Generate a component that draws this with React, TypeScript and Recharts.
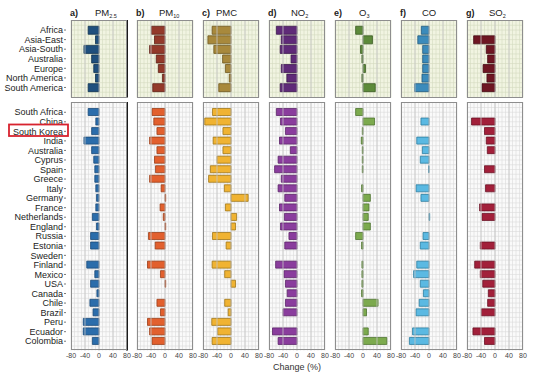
import { Bar, BarChart, CartesianGrid, ReferenceLine, XAxis, YAxis } from 'recharts';

const regions = ['Africa', 'Asia-East', 'Asia-South', 'Australia', 'Europe', 'North America', 'South America'];
const countries = [
  'South Africa', 'China', 'South Korea', 'India', 'Australia', 'Cyprus', 'Spain', 'Greece', 'Italy',
  'Germany', 'France', 'Netherlands', 'England', 'Russia', 'Estonia', 'Sweden', 'Finland', 'Mexico',
  'USA', 'Canada', 'Chile', 'Brazil', 'Peru', 'Ecuador', 'Colombia',
];

// % change, regions (top panels)
const pm25Regions = [-31, -10, -43, -21, -15, -10, -31];
const pm10Regions = [-39, -30, -44, -25, -19, -7, -35];
const pmcRegions = [-54, -66, -49, -24, -16, -5, -35];
const no2Regions = [-59, -45, -48, -17, -45, -29, -48];
const o3Regions = [-21, 27, -7, -3, 7, -3, 35];
const coRegions = [-22, -32, -18, -18, -18, -20, -41];
const so2Regions = [null, -61, -25, -21, -34, -23, -37];

// % change, countries (bottom panels)
const pm25Countries = [-31, -9, -21, -43, -21, -15, -12, -12, -9, -7, -9, -19, -7, -24, -24, null, -35, -12, -24, -6, -26, -17, -45, -45, -19];
const pm10Countries = [-37, -32, -23, -44, -23, -30, -27, -44, -11, 2, -14, -5, 2, -47, -28, null, -50, -13, 2, null, -23, -13, -50, -44, -37];
const pmcCountries = [-53, -75, -23, -51, -23, -40, -59, -64, -19, 49, -16, 16, 13, -53, -14, null, -54, -18, 13, null, -18, -8, -55, -38, -54];
const no2Countries = [-59, -47, -33, -50, -19, -54, -64, -45, -54, -35, -50, -36, -47, -23, -35, null, -61, -37, -33, -28, -33, -40, null, -70, -54];
const o3Countries = [-21, 33, -2, -5, -2, -2, -2, null, -4, 21, 17, 15, 21, -21, -4, null, -3, -3, -3, -4, 43, 10, null, 15, 68];
const coCountries = [null, -23, null, -35, -19, -25, -1, null, -37, -23, null, 2, null, -17, -25, null, -35, -44, -25, -16, -28, -37, null, -47, -56];
const so2Countries = [null, -67, -30, -25, -22, null, -30, null, -27, null, -44, -37, null, null, -42, null, -58, -42, -35, -19, -21, -39, null, -63, -30];

const xTicks = [-80, -70, -60, -50, -40, -30, -20, -10, 0, 10, 20, 30, 40, 50, 60, 70, 80];
const xLabels = [-80, -40, 0, 40, 80];

const pollutants = [
  { letter: 'a)', name: 'PM', sub: '2.5', top: pm25Regions, bottom: pm25Countries },
  { letter: 'b)', name: 'PM', sub: '10', top: pm10Regions, bottom: pm10Countries },
  { letter: 'c)', name: 'PMC', sub: '', top: pmcRegions, bottom: pmcCountries },
  { letter: 'd)', name: 'NO', sub: '2', top: no2Regions, bottom: no2Countries },
  { letter: 'e)', name: 'O', sub: '3', top: o3Regions, bottom: o3Countries },
  { letter: 'f)', name: 'CO', sub: '', top: coRegions, bottom: coCountries },
  { letter: 'g)', name: 'SO', sub: '2', top: so2Regions, bottom: so2Countries },
];

const colors = [
  { top: '#1f4f7d', topLine: '#123350', bottom: '#2b6dab', bottomLine: '#1a4a78', nameX: 95 },
  { top: '#93392a', topLine: '#5e2016', bottom: '#e2602e', bottomLine: '#9a3d18', nameX: 159 },
  { top: '#a8893c', topLine: '#6e5820', bottom: '#f0b332', bottomLine: '#a07618', nameX: 216 },
  { top: '#5f2a78', topLine: '#3c184e', bottom: '#8a3d9d', bottomLine: '#5c2468', nameX: 291 },
  { top: '#5d8a3a', topLine: '#3a5a22', bottom: '#7caa4e', bottomLine: '#4e7430', nameX: 359 },
  { top: '#3b8bbb', topLine: '#225a7e', bottom: '#5bb9e2', bottomLine: '#2d7da0', nameX: 422 },
  { top: '#6e1622', topLine: '#450b14', bottom: '#a2203a', bottomLine: '#6a1224', nameX: 489 },
];

const FONT = '"Liberation Sans", Arial, sans-serif';
const X0 = 71;
const STEP = 66;
const PW = 56;
const LABEL_W = 71;
const SIDE = 8;

function RowLabel(props: any) {
  const { x, y, payload } = props;
  return (
    <g>
      <line x1={x + 1} x2={x + 3} y1={y} y2={y} stroke="#555" strokeWidth={0.8} />
      <text x={x} y={y} dy={3.2} textAnchor="end" fontSize={9} fill="#222" fontFamily={FONT}>
        {payload.value}
      </text>
    </g>
  );
}

interface PanelProps {
  idx: number;
  rows: string[];
  values: (number | null)[];
  fill: string;
  stroke: string;
  bg: string;
  grid: string;
  y: number;
  h: number;
  padTop: number;
  padBottom: number;
  barSize: number;
  showTicks: boolean;
}

function Panel({ idx, rows, values, fill, stroke, bg, grid, y, h, padTop, padBottom, barSize, showTicks }: PanelProps) {
  const data = rows.map((name, k) => ({ name, v: values[k] }));
  const first = idx === 0;
  const left = X0 + STEP * idx;
  const axisH = showTicks ? 14 : 0;
  const n = rows.length;
  const hLines = ({ offset }: any) => {
    const start = offset.top + padTop;
    const step = (offset.height - padTop - padBottom) / n / 2;
    const out: number[] = [];
    for (let k = 0; k <= 2 * n; k++) out.push(start + k * step);
    return out;
  };
  const labelW = first ? LABEL_W : 0;
  return (
    <>
      <div style={{ position: 'absolute', left: left - labelW - (first ? 0 : SIDE), top: y }}>
        <BarChart
          width={labelW + PW + SIDE + (first ? 0 : SIDE)}
          height={h + axisH}
          data={data}
          layout="vertical"
          margin={{ top: 0, right: SIDE, bottom: 0, left: first ? 0 : SIDE }}
        >
          <CartesianGrid fill={bg} fillOpacity={1} stroke={grid} strokeWidth={0.6} horizontalCoordinatesGenerator={hLines} />
          <XAxis
            type="number"
            domain={[-80, 80]}
            ticks={xTicks}
            interval={0}
            allowDataOverflow
            hide={!showTicks}
            height={axisH}
            tickFormatter={(v) => (xLabels.includes(v) ? String(v) : '')}
            tick={{ fontSize: 7, fill: '#444', fontFamily: FONT }}
            tickLine={false}
            axisLine={false}
            tickSize={2}
            tickMargin={1}
          />
          <YAxis
            type="category"
            dataKey="name"
            hide={!first}
            width={labelW}
            padding={{ top: padTop, bottom: padBottom }}
            interval={0}
            tick={<RowLabel />}
            tickLine={false}
            axisLine={false}
          />
          <ReferenceLine x={-40} stroke="#c4c4c4" strokeWidth={0.8} />
          <ReferenceLine x={0} stroke="#bdbdbd" strokeWidth={0.8} />
          <ReferenceLine x={40} stroke="#c4c4c4" strokeWidth={0.8} />
          <Bar dataKey="v" fill={fill} stroke={stroke} strokeWidth={0.8} barSize={barSize} isAnimationActive={false} />
          {first && <ReferenceLine x={80} stroke="#1a1a1a" strokeWidth={2} />}
        </BarChart>
      </div>
      <div
        style={{
          position: 'absolute', left, top: y, width: PW, height: h,
          border: '1px solid #8e8e8e', boxSizing: 'border-box', pointerEvents: 'none',
        }}
      />
    </>
  );
}

export default function App() {
  return (
    <div style={{ position: 'absolute', left: 0, top: 0, width: 559, height: 389, background: '#fff', fontFamily: FONT }}>
      {pollutants.map((p, i) => (
        <Panel
          key={`t${i}`}
          idx={i}
          rows={regions}
          values={p.top}
          fill={colors[i].top}
          stroke={colors[i].topLine}
          bg="#f1f4e1"
          grid="#d3dac0"
          y={20}
          h={77.5}
          padTop={5.25}
          padBottom={5.25}
          barSize={8}
          showTicks={false}
        />
      ))}
      {pollutants.map((p, i) => (
        <Panel
          key={`b${i}`}
          idx={i}
          rows={countries}
          values={p.bottom}
          fill={colors[i].bottom}
          stroke={colors[i].bottomLine}
          bg="#fafafa"
          grid="#dadada"
          y={101.5}
          h={248.5}
          padTop={5.5}
          padBottom={4.5}
          barSize={7}
          showTicks
        />
      ))}
      <svg width={559} height={389} style={{ position: 'absolute', left: 0, top: 0, pointerEvents: 'none' }}>
        {pollutants.map((p, i) => (
          <g key={p.letter} fontFamily={FONT} fill="#222">
            <text x={X0 - 1 + STEP * i} y={16} fontSize={9} fontWeight="bold">{p.letter}</text>
            <text x={colors[i].nameX} y={16} fontSize={9.5}>
              {p.name}
              {p.sub && <tspan fontSize={5.5} dy={2}>{p.sub}</tspan>}
            </text>
          </g>
        ))}
        <rect x={9} y={124.5} width={59} height={11.5} fill="none" stroke="#d8232f" strokeWidth={1.8} />
        <text x={297} y={370} fontSize={9} fontFamily={FONT} fill="#333" textAnchor="middle">Change (%)</text>
      </svg>
    </div>
  );
}
